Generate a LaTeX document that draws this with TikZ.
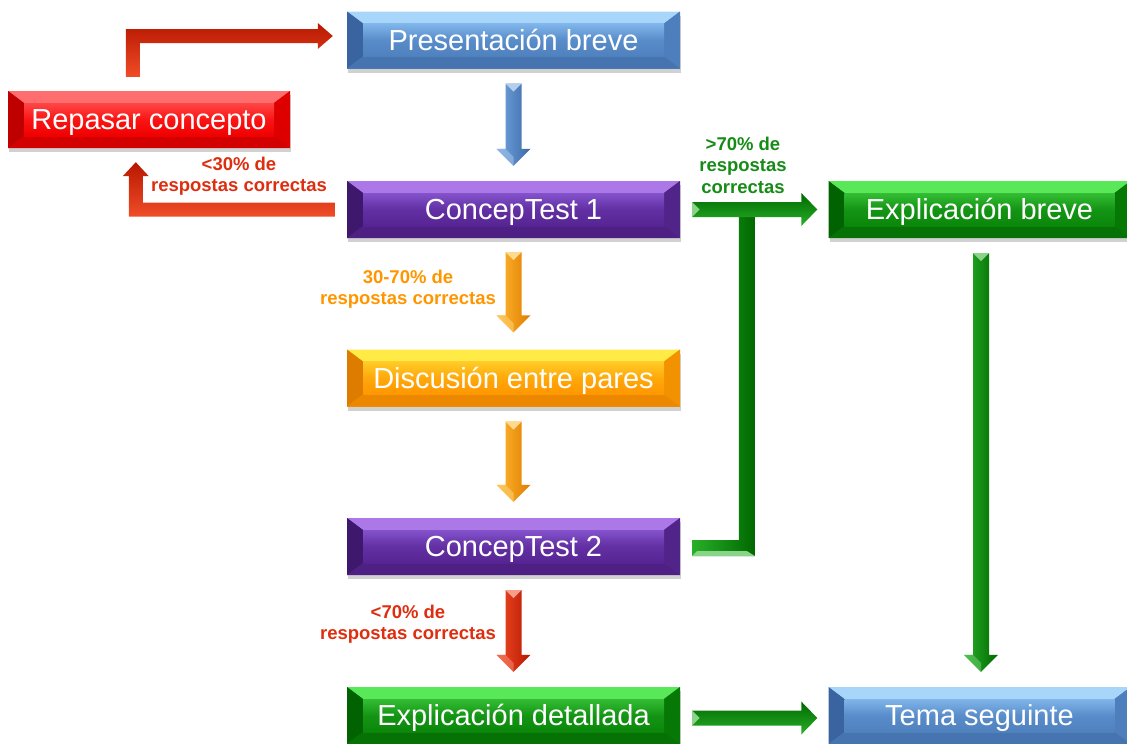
\documentclass[tikz,border=0pt]{standalone}
\usepackage{fontspec}
\setmainfont{Liberation Sans}
\usetikzlibrary{calc,shadows}

% bevel palettes: T top face, L left face, R right face, B bottom face, C1/M/C2 centre gradient
\definecolor{bluT}{RGB}{168,214,250}
\definecolor{bluL}{RGB}{58,100,160}
\definecolor{bluR}{RGB}{78,126,188}
\definecolor{bluB}{RGB}{70,116,176}
\definecolor{bluC1}{RGB}{128,182,234}
\definecolor{bluM}{RGB}{88,140,202}
\definecolor{bluC2}{RGB}{79,129,189}

\definecolor{purT}{RGB}{172,120,232}
\definecolor{purL}{RGB}{62,24,108}
\definecolor{purR}{RGB}{80,36,136}
\definecolor{purB}{RGB}{78,32,132}
\definecolor{purC1}{RGB}{132,82,204}
\definecolor{purM}{RGB}{98,48,162}
\definecolor{purC2}{RGB}{86,36,146}

\definecolor{redT}{RGB}{255,110,110}
\definecolor{redL}{RGB}{190,0,0}
\definecolor{redR}{RGB}{222,0,0}
\definecolor{redB}{RGB}{210,0,0}
\definecolor{redC1}{RGB}{255,70,70}
\definecolor{redM}{RGB}{250,20,20}
\definecolor{redC2}{RGB}{240,0,0}

\definecolor{orgT}{RGB}{255,234,70}
\definecolor{orgL}{RGB}{222,124,0}
\definecolor{orgR}{RGB}{242,146,0}
\definecolor{orgB}{RGB}{236,136,0}
\definecolor{orgC1}{RGB}{255,204,40}
\definecolor{orgM}{RGB}{255,168,10}
\definecolor{orgC2}{RGB}{255,150,0}

\definecolor{grnT}{RGB}{88,232,88}
\definecolor{grnL}{RGB}{0,98,0}
\definecolor{grnR}{RGB}{6,120,6}
\definecolor{grnB}{RGB}{6,114,6}
\definecolor{grnC1}{RGB}{52,190,52}
\definecolor{grnM}{RGB}{20,148,20}
\definecolor{grnC2}{RGB}{10,135,10}

% arrow shades
\definecolor{bluAL}{RGB}{118,168,224}
\definecolor{bluAD}{RGB}{58,104,168}
\definecolor{orgAL}{RGB}{255,186,50}
\definecolor{orgAD}{RGB}{224,124,0}
\definecolor{redAL}{RGB}{240,76,40}
\definecolor{redAD}{RGB}{184,24,0}
\definecolor{grnAL}{RGB}{40,176,40}
\definecolor{grnAD}{RGB}{0,104,0}

% label colours
\definecolor{labred}{RGB}{222,46,16}
\definecolor{labgrn}{RGB}{22,140,22}
\definecolor{laborg}{RGB}{255,150,0}

% faces of a bevelled box
\newcommand\bevelfaces[1]{%
  \coordinate (bvA) at (path picture bounding box.north west);
  \coordinate (bvB) at (path picture bounding box.north east);
  \coordinate (bvC) at (path picture bounding box.south east);
  \coordinate (bvD) at (path picture bounding box.south west);
  \coordinate (bva) at ($(bvA)+(16,12)$);
  \coordinate (bvb) at ($(bvB)+(-16,12)$);
  \coordinate (bvc) at ($(bvC)+(-16,-12)$);
  \coordinate (bvd) at ($(bvD)+(16,-12)$);
  \fill[#1T] (bvA) -- (bvB) -- (bvb) -- (bva) -- cycle;
  \fill[#1L] (bvA) -- (bva) -- (bvd) -- (bvD) -- cycle;
  \fill[#1R] (bvB) -- (bvC) -- (bvc) -- (bvb) -- cycle;
  \fill[#1B] (bvD) -- (bvd) -- (bvc) -- (bvC) -- cycle;
  \shade[top color=#1C1, bottom color=#1C2, middle color=#1M] (bva) rectangle (bvc);
}

% straight block arrow pointing down: from, tip, light, dark
\newcommand\arrowdown[4]{%
  \shade[left color=#3, right color=#4] let \p1=(#1), \p2=(#2) in
    (\x1-8pt,\y1) -- (\x1+8pt,\y1) -- (\x1+8pt,\y2+17pt) -- (\x1+17pt,\y2+17pt)
    -- (\x1,\y2) -- (\x1-17pt,\y2+17pt) -- (\x1-8pt,\y2+17pt) -- cycle;
  \fill[#3!55!white] let \p1=(#1) in
    (\x1-8pt,\y1) -- (\x1+8pt,\y1) -- (\x1,\y1-8pt) -- cycle;
  \fill[#3!70!white, opacity=0.6] let \p1=(#1), \p2=(#2) in
    (\x1-17pt,\y2+17pt) -- (\x1-8pt,\y2+17pt) -- (\x1,\y2+9pt) -- (\x1,\y2) -- cycle;
}

% straight block arrow pointing right: from, tip, light, dark
\newcommand\arrowright[4]{%
  \shade[top color=#4, bottom color=#3] let \p1=(#1), \p2=(#2) in
    (\x1,\y1+7.5pt) -- (\x2-16pt,\y1+7.5pt) -- (\x2-16pt,\y1+16.5pt) -- (\x2,\y1)
    -- (\x2-16pt,\y1-16.5pt) -- (\x2-16pt,\y1-7.5pt) -- (\x1,\y1-7.5pt) -- cycle;
  \fill[#3!55!white] let \p1=(#1) in
    (\x1,\y1+7.5pt) -- (\x1,\y1-7.5pt) -- (\x1+7.5pt,\y1) -- cycle;
}

\begin{document}
\begin{tikzpicture}[x=1pt,y=-1pt,
  box/.style={fill=#1C2, inner sep=0pt, text=white,
    font=\fontsize{29}{34}\selectfont, minimum height=57pt,
    text height=26.8pt, text depth=6pt,
    path picture={\bevelfaces{#1}},
    drop shadow={shadow xshift=1pt, shadow yshift=-4pt, opacity=0.18, fill=black}},
  lab/.style={font=\fontsize{18.5}{21.5}\selectfont\bfseries, align=center, inner sep=0pt},
]
\useasboundingbox (0,0) rectangle (1127,744);
\clip (0,0) rectangle (1127,744);

% steps
\node[box=blu, minimum width=333pt] (pres) at (513.5,40)    {Presentación breve};
\node[box=red, minimum width=282pt] (rep)  at (149,119.5)   {Repasar concepto};
\node[box=pur, minimum width=333pt] (ct1)  at (513.5,209.5) {ConcepTest 1};
\node[box=grn, minimum width=302pt] (eb)   at (979.5,209.5) {Explicación breve};
\node[box=org, minimum width=333pt] (disc) at (513.5,378)   {Discusión entre pares};
\node[box=pur, minimum width=333pt] (ct2)  at (513.5,546.5) {ConcepTest 2};
\node[box=grn, minimum width=333pt] (ed)   at (513.5,715.5) {Explicación detallada};
\node[box=blu, minimum width=302pt] (tema) at (979.5,715.5) {Tema seguinte};

% main column
\arrowdown{$(pres.south)+(0,15)$}{$(ct1.north)+(0,-15)$}{bluAL}{bluAD}
\arrowdown{$(ct1.south)+(0,14)$}{$(disc.north)+(0,-17)$}{orgAL}{orgAD}
\arrowdown{$(disc.south)+(0,15)$}{$(ct2.north)+(0,-16)$}{orgAL}{orgAD}
\arrowdown{$(ct2.south)+(0,15)$}{$(ed.north)+(0,-15)$}{redAL}{redAD}

% right column
\arrowdown{$(eb.south)+(1.5,15)$}{$(tema.north)+(1.5,-15)$}{grnAL}{grnAD}
\arrowright{$(ed.east)+(12,2.5)$}{$(tema.west)+(-11,2.5)$}{grnAL}{grnAD}

% ConcepTest 2 joins the branch to Explicación breve
\coordinate (tj) at ($(ct1.east)!0.45!(eb.west)$);
\shade[left color=grnAL, right color=grnAD]
  let \p1=($(ct2.east)+(12,1.5)$), \p2=(tj) in
  (\x1,\y1+8pt) -- (\x2-8pt,\y1+8pt) -- (\x2-8pt,\y2) -- (\x2+8pt,\y2)
  -- (\x2+8pt,\y1-8pt) -- (\x1,\y1-8pt) -- cycle;
\fill[grnAL!55!white] let \p1=($(ct2.east)+(12,1.5)$), \p2=(tj) in
  (\x1,\y1-8pt) -- (\x2+8pt,\y1-8pt) -- (\x2,\y1-3pt) -- (\x1+5pt,\y1-3pt) -- cycle;
\arrowright{$(ct1.east)+(12,0)$}{$(eb.west)+(-11,0)$}{grnAL}{grnAD}

% loop back through Repasar concepto
\shade[top color=redAD, bottom color=redAL]
  let \p1=($(rep.north west)+(125,-14)$), \p2=($(pres.west)+(-14,-4)$) in
  (\x1-7pt,\y1) -- (\x1-7pt,\y2+7pt) -- (\x2-15pt,\y2+7pt) -- (\x2-15pt,\y2+13pt)
  -- (\x2,\y2) -- (\x2-15pt,\y2-13pt) -- (\x2-15pt,\y2-7pt) -- (\x1+7pt,\y2-7pt)
  -- (\x1+7pt,\y1) -- cycle;
\shade[top color=redAD, bottom color=redAL]
  let \p1=($(ct1.west)+(-12,0)$), \p2=($(rep.south west)+(128,14)$) in
  (\x1,\y1+7pt) -- (\x2+7pt,\y1+7pt) -- (\x2+7pt,\y2-14pt) -- (\x2+13pt,\y2-14pt)
  -- (\x2,\y2) -- (\x2-13pt,\y2-14pt) -- (\x2-7pt,\y2-14pt) -- (\x2-7pt,\y1-7pt)
  -- (\x1,\y1-7pt) -- cycle;

% conditions
\node[lab, text=labred] (l30) at (239,176) {<30\% de\\respostas correctas};
\node[lab, text=labgrn] (l70) at (743,165) {>70\% de\\respostas\\correctas};
\node[lab, text=laborg] (l3070) at (408,289) {30-70\% de\\respostas correctas};
\node[lab, text=labred] (l70b) at (408,624) {<70\% de\\respostas correctas};
\end{tikzpicture}
\end{document}
